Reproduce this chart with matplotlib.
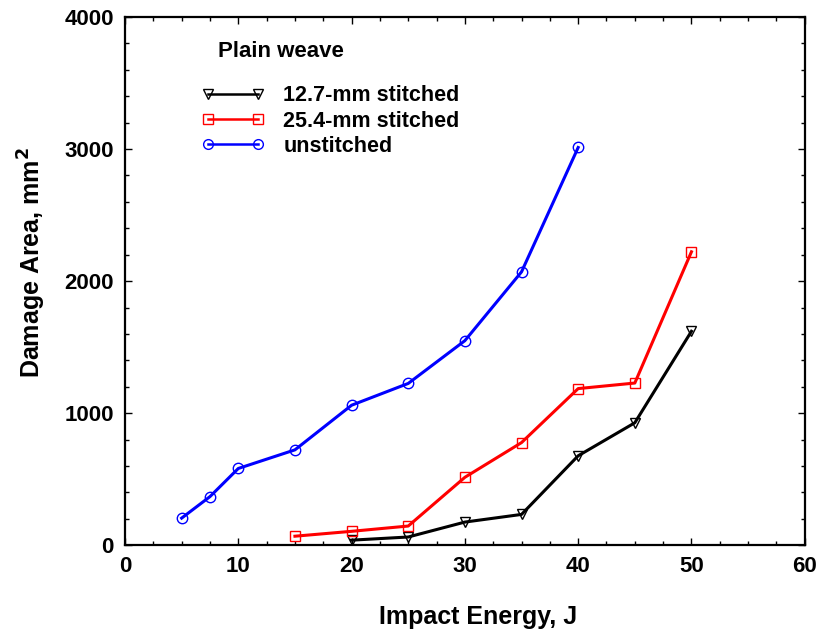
import matplotlib
matplotlib.use('Agg')
import matplotlib.pyplot as plt
from matplotlib.ticker import MultipleLocator

plt.rcParams['font.family'] = ['Liberation Sans', 'DejaVu Sans']
plt.rcParams['font.weight'] = 'bold'

# impact energy (J) and damage area (mm^2)
e_127 = [20, 25, 30, 35, 40, 45, 50]
a_127 = [38, 62, 175, 233, 677, 927, 1620]

e_254 = [15, 20, 25, 30, 35, 40, 45, 50]
a_254 = [68, 105, 145, 514, 777, 1186, 1228, 2222]

e_uns = [5, 7.5, 10, 15, 20, 25, 30, 35, 40]
a_uns = [205, 368, 581, 722, 1060, 1225, 1549, 2070, 3012]

fig = plt.figure(figsize=(8.17, 6.31), dpi=100)
ax = fig.add_axes([0.153, 0.136, 0.832, 0.837])

ax.plot(e_127, a_127, color='black', lw=2.2, marker='v', ms=7.5, mfc='none',
        mec='black', mew=1.0, label='12.7-mm stitched')
ax.plot(e_254, a_254, color='red', lw=2.2, marker='s', ms=7.5, mfc='none',
        mec='red', mew=1.0, label='25.4-mm stitched')
ax.plot(e_uns, a_uns, color='blue', lw=2.2, marker='o', ms=7.5, mfc='none',
        mec='blue', mew=1.0, label='unstitched')

ax.set_xlim(0, 60)
ax.set_ylim(0, 4000)
ax.xaxis.set_major_locator(MultipleLocator(10))
ax.xaxis.set_minor_locator(MultipleLocator(2.5))
ax.yaxis.set_major_locator(MultipleLocator(1000))
ax.yaxis.set_minor_locator(MultipleLocator(200))
ax.tick_params(which='both', direction='in', top=True, right=True,
               labelsize=16, width=1)
ax.tick_params(which='major', length=5, pad=8)
ax.tick_params(which='minor', length=3)
for s in ax.spines.values():
    s.set_linewidth(1.6)

ax.set_xlabel('Impact Energy, J', fontsize=18, fontweight='bold')
ax.set_ylabel('Damage Area, mm$^\\mathbf{2}$', fontsize=18, fontweight='bold')
ax.xaxis.set_label_coords(0.519, -0.113)
ax.yaxis.set_label_coords(-0.113, 0.535)

ax.text(0.137, 0.934, 'Plain weave', transform=ax.transAxes,
        fontsize=16, fontweight='bold', va='center')
leg = ax.legend(loc='upper left', bbox_to_anchor=(0.1, 0.887), frameon=False,
                numpoints=2, fontsize=15.5, handlelength=2.9, handletextpad=0.9,
                labelspacing=0.2, borderaxespad=0)
for h in leg.legend_handles:
    h.set_linewidth(1.8)
    h.set_markersize(7)

fig.savefig('out.png', dpi=100)
